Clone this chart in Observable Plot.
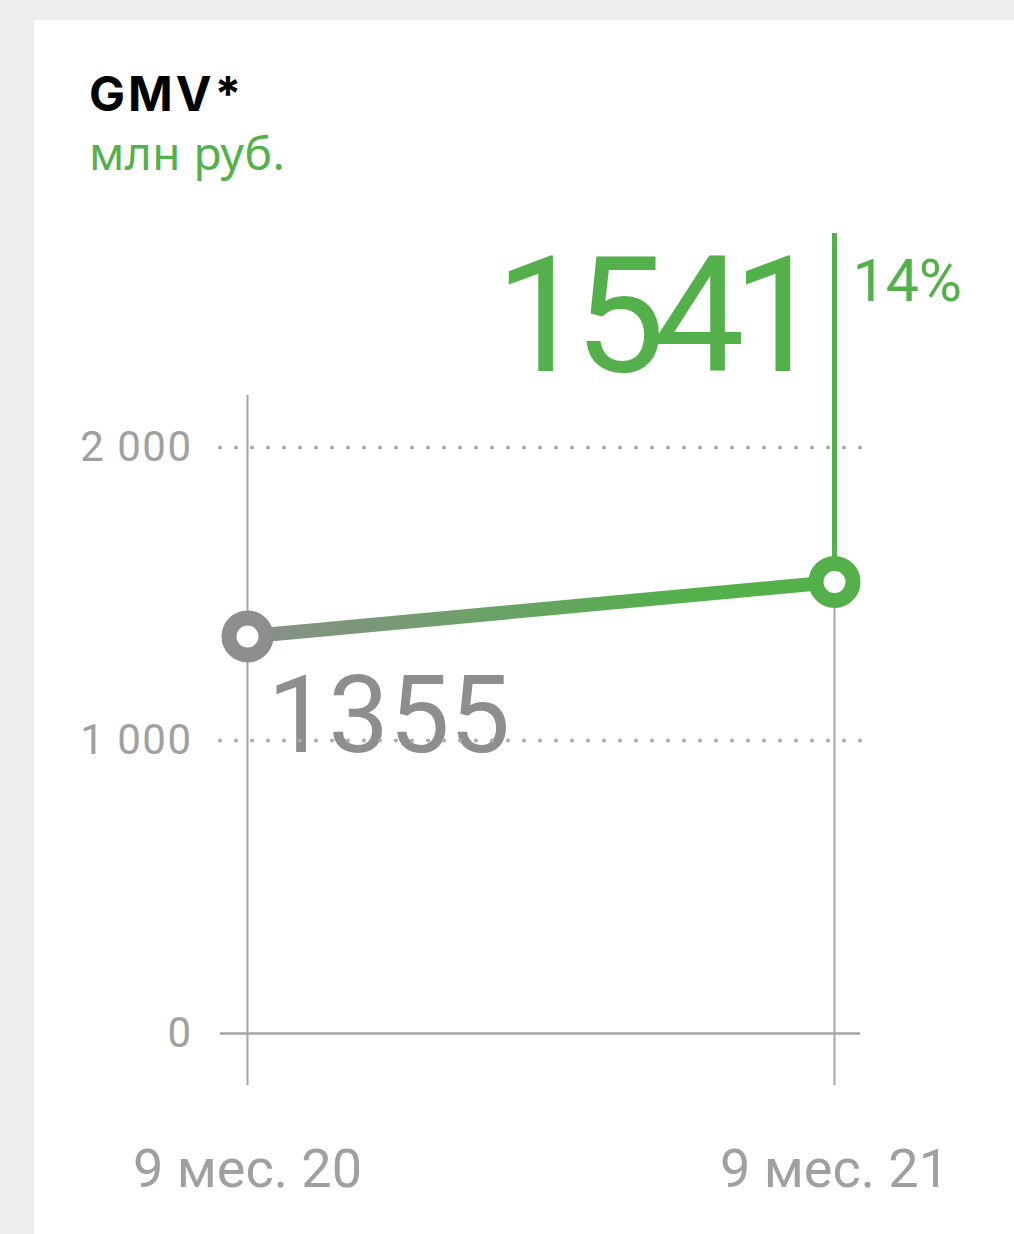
<!DOCTYPE html>
<html><head><meta charset="utf-8">
<script src="https://cdn.jsdelivr.net/npm/d3@7"></script>
<script src="https://cdn.jsdelivr.net/npm/@observablehq/plot@0.6"></script>
<style>
html,body{margin:0;padding:0;background:#ededed;}
body{width:1014px;height:1234px;position:relative;overflow:hidden;font-family:Roboto,sans-serif;}
#card{position:absolute;left:34px;top:20px;width:980px;height:1214px;background:#fff;}
#title{position:absolute;left:89px;top:70px;font-family:Inter,Roboto,sans-serif;font-size:48px;line-height:48px;font-weight:700;letter-spacing:3px;color:#000;margin:0;}
#subtitle{position:absolute;left:89px;top:129px;font-family:"Noto Sans",sans-serif;font-size:46px;line-height:46px;letter-spacing:0.5px;color:#53b04b;margin:0;}
#chart{position:absolute;left:0;top:200px;}
g[aria-label="y-axis tick label"] text{letter-spacing:1.5px;}
</style>
</head><body>
<div id="card"></div>
<div id="title">GMV*</div>
<div id="subtitle">млн руб.</div>
<div id="chart"></div>
<script>
const categories = ["9 мес. 20", "9 мес. 21"];
const values = [1355, 1541];
const valueLabels = ["1355", "1541"];
const changeLabel = "14%";
const pointColors = ["#8e8e8e", "#53b04b"];
const yTicks = [0, 1000, 2000];
const yTickLabels = ["0", "1 000", "2 000"];

const green = "#53b04b";
const grey = "#8e8e8e";
const axisGrey = "#a6a6a6";

const data = categories.map((c, i) => ({cat: c, value: values[i], label: valueLabels[i], color: pointColors[i]}));
const first = [data[0]];
const last = [data[data.length - 1]];

const chart = Plot.plot({
  width: 1014,
  height: 1034,
  marginTop: 33,
  marginBottom: 149,
  marginLeft: 200,
  marginRight: 149,
  style: {fontFamily: "Roboto, sans-serif", background: "transparent", overflow: "visible"},
  x: {type: "point", domain: categories, range: [247, 834], padding: 0, axis: null},
  y: {domain: [0, 2000], range: [833, 247], axis: null},
  color: {type: "identity"},
  marks: [
    Plot.text(first, {x: "cat", y: "value", text: "label", fill: grey, fontSize: 108, textAnchor: "start", lineAnchor: "bottom", dx: 20, dy: 116}),
    Plot.text(last, {x: "cat", y: "value", text: "label", fill: green, fontSize: 162, textAnchor: "end", lineAnchor: "bottom", dx: -23, dy: -211}),
    Plot.text(last, {x: "cat", y: "value", text: () => changeLabel, fill: green, fontSize: 59, textAnchor: "start", lineAnchor: "bottom", dx: 18, dy: -281}),
    Plot.ruleY(yTicks.filter(d => d > 0), {stroke: "#aaaaaa", strokeWidth: 4, strokeDasharray: "0,16", strokeLinecap: "round", insetLeft: 20}),
    Plot.ruleY([0], {stroke: axisGrey, strokeWidth: 2.5, insetLeft: 20, insetRight: 5}),
    Plot.ruleX(categories, {stroke: axisGrey, strokeWidth: 2, insetTop: 162}),
    Plot.ruleX(last, {x: "cat", y1: "value", y2: "value", insetTop: -348.5, stroke: green, strokeWidth: 5}),
    Plot.line(data, {x: "cat", y: "value", stroke: "url(#gmvGrad)", strokeWidth: 14}),
    Plot.dot(data, {x: "cat", y: "value", r: 18.5, fill: "white", stroke: "color", strokeWidth: 15}),
    Plot.axisY({ticks: yTicks, tickFormat: d => yTickLabels[yTicks.indexOf(d)], tickSize: 0, tickPadding: 8, fontSize: 42, color: "#a0a0a0", anchor: "left", label: null}),
    Plot.axisX({tickSize: 0, tickPadding: 63, fontSize: 54, color: "#a0a0a0", anchor: "bottom", label: null})
  ]
});

const svg = d3.select(chart);
svg.selectAll("text").filter(function() { return this.textContent === last[0].label; }).style("letter-spacing", "-12px");
const defs = svg.insert("defs", ":first-child");
const grad = defs.append("linearGradient").attr("id", "gmvGrad").attr("x1", "0").attr("x2", "1").attr("y1", "0").attr("y2", "0");
grad.append("stop").attr("offset", "0").attr("stop-color", "#8a8f8a");
grad.append("stop").attr("offset", "0.75").attr("stop-color", "#53b04b");
grad.append("stop").attr("offset", "1").attr("stop-color", "#53b04b");

document.getElementById("chart").appendChild(chart);
</script>
</body></html>
